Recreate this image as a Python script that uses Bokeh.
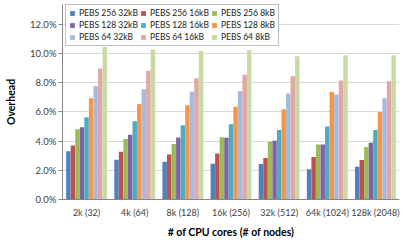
from bokeh.plotting import figure
from bokeh.models import (ColumnDataSource, FactorRange, FixedTicker, PrintfTickFormatter,
                          Legend, LegendItem, Range1d)
from bokeh.transform import dodge
from bokeh.embed import file_html
from bokeh.resources import INLINE

groups = ["2k (32)", "4k (64)", "8k (128)", "16k (256)", "32k (512)", "64k (1024)", "128k (2048)"]

series_names = ["PEBS 256 32kB", "PEBS 256 16kB", "PEBS 256 8kB",
                "PEBS 128 32kB", "PEBS 128 16kB", "PEBS 128 8kB",
                "PEBS 64 32kB", "PEBS 64 16kB", "PEBS 64 8kB"]

# overhead in percent
pebs256_32 = [3.30, 2.73, 2.59, 2.45, 2.43, 2.07, 2.25]
pebs256_16 = [3.70, 3.27, 3.09, 3.16, 2.84, 2.91, 2.70]
pebs256_8  = [4.82, 4.14, 3.80, 4.27, 3.95, 3.77, 3.59]
pebs128_32 = [4.95, 4.43, 4.25, 4.23, 4.02, 3.77, 3.89]
pebs128_16 = [5.64, 5.36, 5.09, 5.16, 4.77, 5.00, 4.77]
pebs128_8  = [6.93, 6.55, 6.45, 6.36, 6.18, 7.36, 6.00]
pebs64_32  = [7.77, 7.55, 7.39, 7.43, 7.27, 7.20, 6.93]
pebs64_16  = [8.98, 8.82, 8.30, 8.55, 8.45, 8.16, 8.11]
pebs64_8   = [10.45, 10.27, 10.18, 10.23, 9.82, 9.89, 9.89]

series_values = [pebs256_32, pebs256_16, pebs256_8,
                 pebs128_32, pebs128_16, pebs128_8,
                 pebs64_32, pebs64_16, pebs64_8]

colors = ["#4F81BD", "#C0504D", "#9BBB59",
          "#8064A2", "#4BACC6", "#F79646",
          "#A5BAE0", "#E0A7A5", "#C7DAA3"]

y_ticks = [0, 2, 4, 6, 8, 10, 12]

FONT = "Lato"
TXT = "#404040"

data = {"group": groups}
for i, vals in enumerate(series_values):
    data[f"s{i}"] = vals
source = ColumnDataSource(data)

p = figure(width=407, height=240, output_backend="svg", toolbar_location=None,
           x_range=FactorRange(*groups, range_padding=0),
           y_range=Range1d(0, 13.36),
           min_border_left=62, min_border_right=8, min_border_top=4, min_border_bottom=40)
p.outline_line_color = None
p.background_fill_color = "white"
p.border_fill_color = "white"

bw = 0.0945
items = []
for i in range(9):
    off = (i - 4) * bw
    r = p.vbar(x=dodge("group", off, range=p.x_range), top=f"s{i}", width=bw * 0.98,
               source=source, fill_color=colors[i], line_color=None)
    items.append(LegendItem(label=series_names[i], renderers=[r]))

legend = Legend(items=items, orientation="horizontal", ncols=3,
                location=(3, 153), label_text_font=FONT, label_text_font_size="8.5px",
                label_text_color="#222222", glyph_width=6, glyph_height=6,
                label_height=8, label_standoff=4, spacing=2, padding=3, margin=0,
                border_line_color="#808080", border_line_width=1,
                background_fill_alpha=1.0)
p.add_layout(legend, "center")

# y axis
p.yaxis.ticker = FixedTicker(ticks=y_ticks)
p.yaxis.formatter = PrintfTickFormatter(format="%.1f%%")
p.yaxis.axis_label = "Overhead"
p.yaxis.axis_label_text_font = FONT
p.yaxis.axis_label_text_font_style = "bold"
p.yaxis.axis_label_text_font_size = "10.5px"
p.yaxis.axis_label_text_color = "#000000"
p.yaxis.axis_label_standoff = 10
p.yaxis.major_label_text_font = FONT
p.yaxis.major_label_text_font_size = "9.5px"
p.yaxis.major_label_text_color = TXT
p.yaxis.major_label_standoff = 2
p.yaxis.major_tick_out = 4
p.yaxis.major_tick_in = 0
p.yaxis.minor_tick_out = 0
p.yaxis.minor_tick_in = 0
p.yaxis.axis_line_color = "#868686"
p.yaxis.major_tick_line_color = "#868686"

# x axis
p.xaxis.axis_label = "# of CPU cores (# of nodes)"
p.xaxis.axis_label_text_font = FONT
p.xaxis.axis_label_text_font_style = "bold"
p.xaxis.axis_label_text_font_size = "10.5px"
p.xaxis.axis_label_text_color = "#000000"
p.xaxis.axis_label_standoff = 5
p.xaxis.major_label_text_font = FONT
p.xaxis.major_label_text_font_size = "9px"
p.xaxis.major_label_text_color = TXT
p.xaxis.major_label_standoff = 7
p.xaxis.major_tick_out = 0
p.xaxis.major_tick_in = 0
p.xaxis.axis_line_color = "#868686"

p.xgrid.grid_line_color = None
p.ygrid.grid_line_color = "#D9D9D9"
p.ygrid.grid_line_width = 1

open("out.html", "w").write(file_html(p, INLINE))
